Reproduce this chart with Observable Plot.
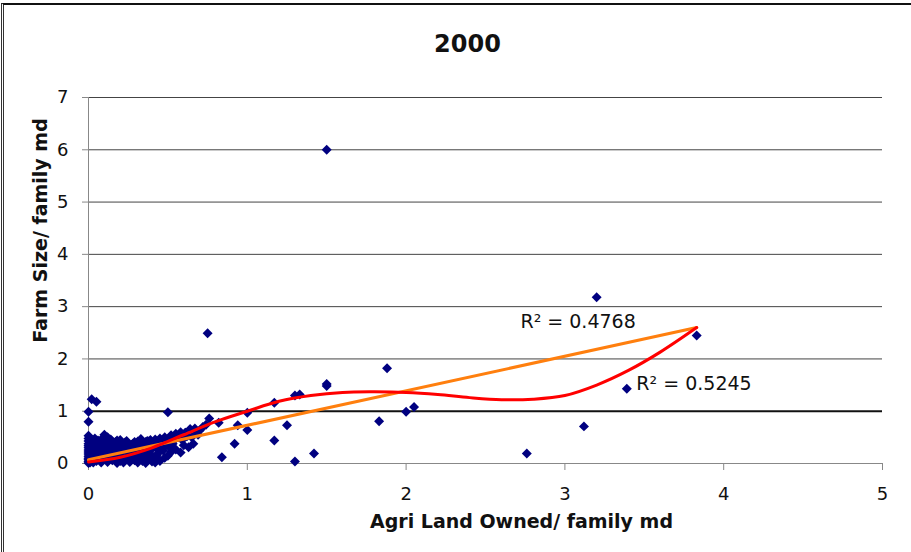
<!DOCTYPE html>
<html><head><meta charset="utf-8">
<script src="https://cdn.jsdelivr.net/npm/d3@7"></script>
<script src="https://cdn.jsdelivr.net/npm/@observablehq/plot@0.6"></script>
<style>
html,body{margin:0;padding:0;background:#fff;overflow:hidden;}
#wrap{position:relative;width:911px;height:552px;}
#frame{position:absolute;left:1px;top:3px;width:960px;height:600px;border-left:3px double #333;border-top:2px solid #111;box-sizing:border-box;pointer-events:none;}
</style></head><body><div id="wrap"><div id="chart"></div><div id="frame"></div></div>
<script>
const title = "2000";
const xLabel = "Agri Land Owned/ family md";
const yLabel = "Farm Size/ family md";
const xTicks = [0, 1, 2, 3, 4, 5];
const yTicks = [0, 1, 2, 3, 4, 5, 6, 7];

// Agri land owned per family (x) and farm size per family (y)
const landOwned = [
  1.5, 3.2, 0.75, 3.83, 1.88, 1.5, 1.5, 3.39, 2.0, 2.05, 1.83, 3.12, 2.76, 1.42, 1.3, 1.3, 1.33, 1.17, 1.0, 1.0,
  0.94, 0.92, 0.84, 1.17, 1.25, 0.76, 0.82, 0.5, 0.02, 0.05, 0, 0,
  0.58, 0.63, 0.66, 0.61, 0.67, 0.7,
  0.3, 0.34, 0.38, 0.42, 0.45, 0.48, 0.52, 0.55, 0.58, 0.61, 0.64, 0.72, 0.56, 0.5, 0.44, 0.26, 0.22,
  0.45, 0.42, 0.48, 0.5, 0.52, 0.55, 0.6, 0.47, 0.44, 0.4, 0.41, 0.53,
  0, 0, 0, 0, 0, 0, 0, 0, 0, 0, 0, 0, 0, 0, 0.01, 0.01, 0.01, 0.01, 0.01, 0.02, 0.02, 0.02, 0.02,
  0.03, 0.03, 0.04, 0.04, 0.05, 0.05, 0.06, 0.06, 0.07, 0.07, 0.08, 0.08, 0.09, 0.1, 0.1, 0.1, 0.12, 0.11,
  0.12, 0.13, 0.13, 0.14, 0.15, 0.15, 0.16, 0.17, 0.18, 0.18, 0.18, 0.19, 0.2, 0.2,
  0.21, 0.22, 0.22, 0.23, 0.24, 0.25, 0.25, 0.26, 0.27, 0.28, 0.28, 0.29, 0.3, 0.3,
  0.31, 0.31, 0.32, 0.33, 0.34, 0.35, 0.35, 0.36, 0.37, 0.38, 0.38, 0.39, 0.4, 0.4,
  0.04, 0.08, 0.13, 0.16, 0.2, 0.24, 0.27, 0.33, 0.36, 0.39, 0.43, 0.46, 0.49, 0.54, 0.57, 0.62, 0.68,
  0.06, 0.11, 0.15, 0.19, 0.23, 0.29, 0.32, 0.37, 0.02, 0.09, 0.14, 0.26, 0.05, 0.17,
  0.35, 0.43, 0.47, 0.51, 0.59, 0.65, 0.69, 0.74, 0.36, 0.41, 0.46
];
const farmSize = [
  6.0, 3.18, 2.49, 2.45, 1.82, 1.52, 1.48, 1.43, 0.99, 1.08, 0.81, 0.71, 0.19, 0.19, 0.04, 1.3, 1.32, 1.16, 0.97, 0.64,
  0.73, 0.38, 0.12, 0.44, 0.73, 0.86, 0.78, 0.98, 1.23, 1.18, 0.99, 0.8,
  0.21, 0.31, 0.38, 0.59, 0.67, 0.63,
  0.32, 0.36, 0.42, 0.46, 0.48, 0.5, 0.54, 0.57, 0.6, 0.59, 0.66, 0.7, 0.52, 0.46, 0.42, 0.3, 0.26,
  0.05, 0.02, 0.11, 0.15, 0.22, 0.27, 0.35, 0.3, 0.2, 0.1, 0.33, 0.38,
  0.01, 0.04, 0.07, 0.1, 0.14, 0.18, 0.22, 0.26, 0.3, 0.34, 0.38, 0.43, 0.48, 0.53, 0.02, 0.12, 0.24, 0.36, 0.46, 0.06, 0.16, 0.3, 0.42,
  0.02, 0.1, 0.2, 0.33, 0.05, 0.15, 0.25, 0.44, 0.08, 0.36, 0.02, 0.18, 0.28, 0.1, 0.4, 0.55, 0.5, 0.2,
  0.03, 0.14, 0.32, 0.24, 0.06, 0.42, 0.18, 0.3, 0.01, 0.1, 0.44, 0.22, 0.05, 0.35,
  0.14, 0.02, 0.27, 0.4, 0.08, 0.2, 0.33, 0.03, 0.12, 0.25, 0.38, 0.06, 0.17, 0.29,
  0.02, 0.42, 0.1, 0.22, 0.05, 0.3, 0.14, 0.01, 0.24, 0.08, 0.35, 0.18, 0.04, 0.28,
  0.48, 0.46, 0.38, 0.36, 0.45, 0.43, 0.36, 0.47, 0.41, 0.45, 0.28, 0.36, 0.42, 0.45, 0.5, 0.52, 0.58,
  0.3, 0.33, 0.28, 0.32, 0.37, 0.41, 0.32, 0.43, 0.26, 0.23, 0.46, 0.17, 0.38, 0.41,
  0.22, 0.15, 0.25, 0.31, 0.45, 0.5, 0.55, 0.74, 0.18, 0.07, 0.37
];

// Linear trendline (R² = 0.4768), endpoints
const linX = [0, 3.83];
const linY = [0.07, 2.6];
// Polynomial trendline (R² = 0.5245)
const polyX = [0, 0.2, 0.4, 0.6, 0.8, 1.0, 1.2, 1.4, 1.6, 1.8, 2.0, 2.2, 2.4, 2.6, 2.8, 3.0, 3.2, 3.4, 3.6, 3.83];
const polyY = [0.03, 0.12, 0.3, 0.55, 0.8, 1.0, 1.19, 1.3, 1.36, 1.37, 1.36, 1.32, 1.26, 1.22, 1.23, 1.3, 1.5, 1.78, 2.13, 2.6];

const r2Text = ["R² = 0.4768", "R² = 0.5245"];
const r2X = [2.72, 3.45];
const r2Y = [2.715, 1.53];

const points = landOwned.map((x, i) => ({x, y: farmSize[i]}));
const lin = linX.map((x, i) => ({x, y: linY[i]}));
const poly = polyX.map((x, i) => ({x, y: polyY[i]}));
const r2 = r2Text.map((t, i) => ({t, x: r2X[i], y: r2Y[i]}));

const font = "DejaVu Sans, Liberation Sans, sans-serif";
const chart = Plot.plot({
  width: 911, height: 552,
  marginLeft: 88, marginRight: 29, marginTop: 97, marginBottom: 89,
  style: {fontFamily: font, background: "white", color: "#111", overflow: "visible"},
  x: {domain: [0, 5]},
  y: {domain: [0, 7]},
  marks: [
    Plot.ruleY(yTicks.filter(d => d > 1), {stroke: "#444", strokeWidth: 1, strokeOpacity: 1}),
    Plot.ruleY([1], {stroke: "#111", strokeWidth: 2, strokeOpacity: 1}),
    Plot.ruleX([0], {stroke: "#888", strokeOpacity: 1}),
    Plot.ruleY([0], {stroke: "#888", strokeOpacity: 1}),
    Plot.axisX({ticks: xTicks, tickSize: 7, tickPadding: 17, label: null, stroke: "#888", fill: "#111", fontSize: 18, tickFormat: d => String(d)}),
    Plot.axisY({ticks: yTicks, tickSize: 6, tickPadding: 14, label: null, stroke: "#888", fill: "#111", fontSize: 18, tickFormat: d => String(d)}),
    Plot.dot(points, {x: "x", y: "y", symbol: "diamond2", r: 4.5, fill: "#000080", stroke: "none"}),
    Plot.line(lin, {x: "x", y: "y", stroke: "#FF7F0E", strokeWidth: 3}),
    Plot.line(poly, {x: "x", y: "y", stroke: "#FF0000", strokeWidth: 3, curve: "catmull-rom"}),
    Plot.text(r2, {x: "x", y: "y", text: "t", textAnchor: "start", fontSize: 19, fill: "#111"}),
    Plot.text([title], {text: d => d, frameAnchor: "top", textAnchor: "middle", lineAnchor: "middle", dx: -18, dy: -53, fontSize: 24, fontWeight: "bold", fill: "#111"}),
    Plot.text([xLabel], {text: d => d, frameAnchor: "bottom", textAnchor: "middle", lineAnchor: "middle", dx: 36, dy: 58, fontSize: 19, fontWeight: "bold", fill: "#111"}),
    Plot.text([yLabel], {text: d => d, frameAnchor: "left", textAnchor: "middle", lineAnchor: "middle", dx: -48, dy: -50, rotate: -90, fontSize: 19, fontWeight: "bold", fill: "#111"})
  ]
});
document.getElementById("chart").appendChild(chart);
</script></body></html>
